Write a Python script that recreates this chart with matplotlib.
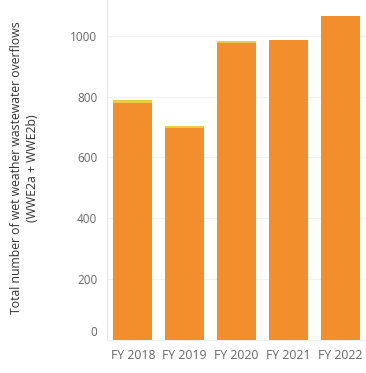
import matplotlib.pyplot as plt

years = ['FY 2018', 'FY 2019', 'FY 2020', 'FY 2021', 'FY 2022']
wwe2a = [780, 698, 976, 985, 1064]
wwe2b = [9, 5, 8, 2, 2]

plt.rcParams['font.family'] = ['Open Sans', 'DejaVu Sans']

fig = plt.figure(figsize=(3.66, 3.73), dpi=100)
ax = fig.add_axes([107/366, 33.5/373, 259/366, 339.5/373])

x = range(len(years))
ax.bar(x, wwe2a, width=0.75, color='#F28E2B', zorder=2)
ax.bar(x, wwe2b, width=0.75, bottom=wwe2a, color='#EDC948', zorder=2)

ax.set_xlim(-0.5, 4.5)
ax.set_ylim(0, 1118)
ax.set_yticks([0, 200, 400, 600, 800, 1000])
ax.set_xticks(list(x))
ax.set_xticklabels(years)
ax.yaxis.grid(True, color='#f0f0f0', linewidth=0.8, zorder=0)
ax.tick_params(length=0, colors='#666666')
ax.tick_params(axis='y', pad=7, labelsize=8.5)
ax.tick_params(axis='x', pad=7, labelsize=8.8)
ax.get_yticklabels()[0].set_verticalalignment('bottom')

for s in ['top', 'right']:
    ax.spines[s].set_visible(False)
ax.spines['left'].set_color('#e6e6e6')
ax.spines['bottom'].set_color('#f0f0f0')

# y axis title, two lines
fig.text(25/366, 205/373, 'Total number of wet weather wastewater overflows\n(WWE2a + WWE2b)',
         rotation=90, ha='center', va='center', multialignment='center',
         fontsize=8.8, color='#333333', linespacing=1.3)

plt.savefig('out.png', dpi=100)
